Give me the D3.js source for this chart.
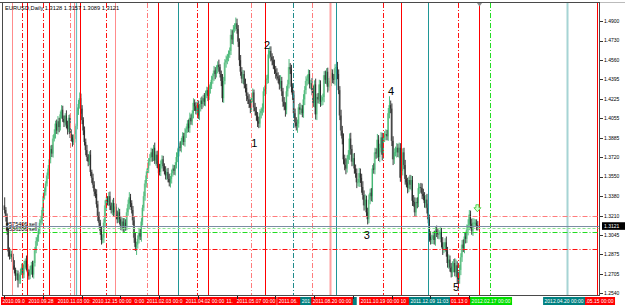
<!DOCTYPE html>
<html>
<head>
<meta charset="utf-8">
<script src="https://cdn.jsdelivr.net/npm/d3@7"></script>
<style>
  html, body { margin: 0; padding: 0; background: #fff; overflow: hidden; }
  svg { display: block; font-family: "Liberation Sans", Arial, sans-serif; }
</style>
</head>
<body>
<script>
/**
 * EURUSD Daily - MT4 style candle chart with objects
 */

/**
 * Data (prices in pips, 13121 = 1.3121)
 */
var title = 'EURUSD,Daily  1.3128 1.3157 1.3089 1.3121';
var firstOpen = 13300;
var closes = [
  13260,13200,13080,12900,12860,12880,12850,12780,12740,12690,
  12710,12650,12660,12720,12760,12700,12790,12820,12760,12720,
  12690,12740,12780,12700,12800,12910,12990,13020,13080,13150,
  13170,13260,13380,13420,13490,13560,13620,13700,13790,13750,
  13880,13920,14010,13950,14030,13980,14090,14130,14050,14020,
  14080,14000,13960,14060,13920,13890,13850,13880,13920,13990,
  14120,14180,14230,14140,14040,13950,13850,13780,13720,13680,
  13740,13590,13540,13480,13420,13400,13310,13210,13150,13080,
  13000,13020,13150,13300,13350,13330,13380,13300,13260,13320,
  13240,13290,13220,13180,13240,13180,13120,13160,13100,13150,
  13120,13240,13310,13370,13320,13260,13170,13020,12940,12960,
  13010,13060,13030,13160,13280,13380,13490,13560,13620,13680,
  13710,13760,13720,13800,13690,13740,13660,13620,13590,13660,
  13700,13640,13600,13560,13590,13530,13500,13530,13580,13620,
  13600,13650,13720,13760,13810,13800,13860,13900,13850,13930,
  13960,14010,13970,14060,14030,14100,14190,14160,14120,14170,
  14080,14150,14210,14180,14230,14200,14260,14300,14250,14310,
  14340,14390,14420,14470,14440,14480,14520,14500,14440,14380,
  14230,14380,14540,14560,14590,14610,14640,14780,14740,14830,
  14850,14880,14830,14720,14560,14460,14400,14440,14350,14320,
  14250,14220,14180,14150,14240,14280,14150,14120,14080,14030,
  14010,14100,14120,14140,14290,14310,14390,14400,14610,14640,
  14590,14560,14520,14480,14450,14420,14400,14350,14380,14290,
  14200,14160,14130,14290,14350,14500,14480,14330,14260,14100,
  14020,13990,14010,14150,14130,14140,14100,14220,14300,14380,
  14400,14440,14350,14360,14300,14190,14350,14090,14240,14220,
  14350,14200,14210,14240,14430,14390,14460,14330,14360,14380,
  14450,14400,14390,14490,14500,14440,14300,14080,13950,13880,
  13700,13650,13620,13700,13740,13880,13790,13680,13710,13620,
  13580,13500,13500,13580,13540,13460,13390,13300,13350,13240,
  13180,13350,13410,13380,13620,13610,13760,13750,13870,13720,
  13800,13890,13740,13890,13910,13920,13900,14100,14170,14140,
  13860,13700,13760,13760,13800,13760,13800,13540,13600,13760,
  13650,13530,13500,13450,13520,13480,13520,13340,13330,13240,
  13330,13320,13450,13460,13450,13400,13380,13320,13350,13280,
  13180,13030,13000,13010,13040,13000,13080,13060,13050,13050,
  13070,12980,12920,12940,12980,12900,12800,12830,12760,12720,
  12770,12800,12720,12780,12680,12660,12740,12850,12960,12930,
  13030,13010,13090,13130,13220,13140,13080,13150,13150,13150,
  13128,13121
];
// upper / lower shadow length above / below the body, in pips
var wickUp = [
  70,25,30,20,35,40,25,30,45,20,30,25,40,30,35,25,30,20,45,30,
  25,35,30,40,20,30,35,25,20,30,40,25,30,35,20,25,30,45,30,35,
  30,40,25,35,45,30,25,40,35,30,20,45,35,25,30,40,25,35,30,20,
  30,35,50,40,30,25,35,30,45,25,30,40,20,35,30,25,40,30,35,25,
  40,30,35,45,25,30,35,40,25,30,45,30,25,35,40,30,25,35,30,40,
  30,35,40,45,30,25,35,30,40,25,30,45,35,30,25,40,30,35,25,30,
  35,40,30,25,45,30,35,25,40,30,35,30,25,40,30,35,45,25,30,35,
  30,25,40,35,30,45,25,35,30,40,25,30,35,45,30,25,40,30,35,30,
  40,30,25,35,30,45,35,30,25,40,30,35,25,40,30,35,30,45,25,30,
  60,35,30,40,25,35,30,50,40,35,30,50,40,35,30,45,40,35,30,50,
  35,30,45,40,30,35,25,40,35,30,40,35,30,45,35,30,40,35,45,40,
  40,30,35,45,30,40,35,30,50,35,30,40,35,45,40,70,35,40,30,35,
  40,45,35,30,40,35,30,45,35,40,30,40,35,30,45,40,35,50,30,35,
  40,35,45,30,35,40,30,35,45,40,35,30,40,35,30,45,40,35,50,40,
  45,40,60,35,40,45,50,35,40,45,35,40,30,45,40,35,50,40,45,35,
  40,45,35,40,30,45,40,35,50,40,35,45,40,30,35,40,35,45,77,40,
  45,40,35,50,40,35,45,40,50,35,40,45,35,40,30,45,40,35,50,40,
  35,40,45,30,35,40,45,35,40,50,35,40,45,35,30,40,35,45,40,35,
  40,35,45,40,35,50,40,45,35,40,45,35,40,50,35,40,45,35,40,45,
  35,40,45,50,40,35,45,40,35,30,29,36
];
var wickDn = [
  30,40,35,45,30,25,40,35,30,45,35,62,30,40,25,35,30,45,25,40,
  35,30,40,25,35,30,25,40,35,30,25,35,40,30,35,25,30,40,35,30,
  35,25,40,30,35,45,30,35,25,40,35,30,45,25,35,30,40,25,35,45,
  30,35,40,45,35,40,30,45,35,40,30,35,45,30,40,35,30,45,40,35,
  40,30,45,35,40,30,35,40,30,45,35,30,40,35,30,45,35,40,30,35,
  40,35,30,45,35,30,40,45,35,70,35,40,30,45,35,30,40,35,30,40,
  35,30,40,35,30,45,35,40,30,35,40,45,30,35,40,30,35,45,40,30,
  35,40,30,45,35,30,40,35,30,40,45,30,35,40,30,35,45,40,30,35,
  30,40,35,45,30,35,40,30,45,35,40,30,35,40,45,30,35,40,30,45,
  35,40,30,45,35,40,30,35,40,45,30,35,40,45,50,35,40,45,35,40,
  45,40,35,50,40,45,35,40,45,50,40,35,45,40,35,40,45,35,40,35,
  40,45,35,40,50,35,40,45,35,40,45,35,60,40,45,35,40,50,45,40,
  45,40,60,35,40,45,35,40,50,35,40,45,35,40,45,35,40,45,50,35,
  40,45,35,40,45,35,40,50,35,40,45,40,35,50,40,45,35,40,45,50,
  40,45,50,35,40,45,50,40,35,45,40,50,35,40,45,50,40,45,35,40,
  45,35,40,45,50,35,40,45,40,35,45,40,50,35,40,45,35,40,45,40,
  45,50,40,35,45,40,50,35,45,40,35,50,40,45,35,40,50,45,40,35,
  40,45,35,50,40,45,35,40,45,50,35,45,40,35,45,40,50,35,40,45,
  40,45,50,35,40,45,40,50,35,45,40,50,35,45,56,50,40,45,40,35,
  45,40,35,50,45,40,35,45,40,35,45,39
];

// price scale labels
var priceTicks = [1.4900, 1.4730, 1.4560, 1.4395, 1.4225, 1.4055, 1.3885, 1.3720,
                  1.3550, 1.3380, 1.3210, 1.3045, 1.2875, 1.2705, 1.2540];
var bidPrice = 1.3121;

// vertical line objects (bar index, kind)
var vlineBars  = [6.4, 14.6, 18.8, 32.0, 36.9, 54.3, 57.6, 59.3, 62.6, 84.0, 91.5, 117.9, 127.0, 143.6, 159.3,
                  168.3, 203.9, 215.5, 238.6, 254.3, 269.2, 274.1, 313.0, 327.8, 350.2, 374.9, 392.3, 401.4, 465.0, 489.8];
var vlineKinds = ['pink', 'redDash', 'red', 'redDash', 'red', 'pinkDash', 'pink', 'tealSoft', 'red', 'redDash',
                  'pink', 'pinkDash', 'red', 'teal', 'redDash', 'red', 'pinkDash', 'red', 'tealDash', 'pinkDash',
                  'pinkWide', 'teal', 'redDash', 'red', 'teal', 'redDash', 'red', 'greenDash', 'tealLight', 'red'];

// horizontal levels
var levelPrices = [1.3205, 1.3121, 1.3108, 1.3067, 1.2919];
var levelKinds  = ['pinkDash', 'bid', 'orderDash', 'greenDash', 'redDash'];

// order labels
var orderTexts  = ['#575406 sell', '#536206 sell'];
var orderPrices = [1.3108, 1.3067];

// wave count labels
var waveTexts  = ['1', '2', '3', '4', '5'];
var waveBars   = [206.6, 217.1, 299.7, 319.6, 373.3];
var wavePrices = [1.3807, 1.4657, 1.3009, 1.4258, 1.2557];

// time axis object labels (bar index of the label centre, text, colour), in drawing order
var labelBars  = [14.6, 36.1, 60.1, 99.8, 89.0, 133.6, 194.8, 165.9, 208.0, 242.7, 261.7, 274.1, 270.8,
                  327.8, 310.5, 374.9, 351.4, 402.3, 487.4, 462.6];
var labelTexts = ['2010.09.01 00:00', '2010.09.28 00:00', '2010.11.03 00:00', '2011.01.05 00:00',
                  '2010.12.15 00:00', '2011.02.03 00:00', '2011.04.28 00:00', '2011.04.02 00:00',
                  '2011.05.07 00:00', '2011.06.29 00:00', '2011.07.19 00:00', '2011.08.25 00:00',
                  '2011.08.20 00:00', '2011.11.10 00:00', '2011.10.19 00:00', '2012.01.13 00:00',
                  '2011.12.09 11:03', '2012.02.17 00:00', '2012.05.15 00:00', '2012.04.20 00:00'];
var labelKinds = ['red', 'red', 'red', 'red', 'red', 'red', 'red', 'red', 'red', 'red', 'teal', 'teal', 'red',
                  'red', 'red', 'red', 'teal', 'green', 'red', 'teal'];
var timeTickBars = [0, 32, 64, 96, 128, 160, 192, 224, 256, 288, 320, 352, 384];

/**
 * Styles
 */
var dd = '5,2,1,2';
var lineStyle = {
  red:       { stroke: '#ff0000', dash: null, w: 1 },
  redDash:   { stroke: '#ff1010', dash: dd, w: 1 },
  pink:      { stroke: '#ff8c8c', dash: null, w: 1 },
  pinkWide:  { stroke: '#ffa0a0', dash: null, w: 2 },
  pinkDash:  { stroke: '#ff7c7c', dash: dd, w: 1 },
  teal:      { stroke: '#1f9696', dash: null, w: 1 },
  tealSoft:  { stroke: '#6cc4c4', dash: null, w: 1.2 },
  tealDash:  { stroke: '#1f8a8a', dash: dd, w: 1 },
  tealLight: { stroke: '#a6d4d4', dash: null, w: 2 },
  greenDash: { stroke: '#22dd22', dash: dd, w: 1 },
  orderDash: { stroke: '#8fe88f', dash: '3,2', w: 1 },
  bid:       { stroke: '#7c8ca4', dash: null, w: 1 }
};
var labelFill = { red: '#ff0000', teal: '#008080', green: '#00dd00' };

var plot = { left: 2.5, right: 599.5, top: 3, bottom: 295 };

/**
 * Scales
 */
var x = d3.scaleLinear()
  .domain([ 0, closes.length - 1 ])
  .range([ 4.3, 4.3 + (closes.length - 1) * 1.21 ]);
var y = d3.scaleLinear()
  .domain([ 1.2540, 1.4900 ])
  .range([ 293, 21 ]);

var candles = closes.map(function(c, i) {
  var o = i === 0 ? firstOpen : closes[i - 1];
  var hi = Math.max(o, c) + (wickUp[i] || 0);
  var lo = Math.min(o, c) - (wickDn[i] || 0);
  return { i: i, open: o / 1e4, close: c / 1e4, high: hi / 1e4, low: lo / 1e4, up: c >= o };
});

/**
 * SVG
 */
var svg = d3.select('body').append('svg')
  .attr('width', 625)
  .attr('height', 307);

svg.append('rect').attr('width', 625).attr('height', 307).attr('fill', '#fff');

svg.append('defs').append('clipPath').attr('id', 'plot')
  .append('rect')
    .attr('x', plot.left).attr('y', plot.top)
    .attr('width', plot.right - plot.left).attr('height', plot.bottom - plot.top);

var chart = svg.append('g').attr('clip-path', 'url(#plot)');

/**
 * Candles
 */
chart.selectAll('.body').data(candles)
  .enter().append('rect')
    .attr('class', 'body')
    .attr('x', function(d) { return x(d.i) - 0.85; })
    .attr('width', 1.7)
    .attr('y', function(d) { return y(Math.max(d.open, d.close)); })
    .attr('height', function(d) { return Math.max(0.8, Math.abs(y(d.open) - y(d.close))); })
    .attr('fill', function(d) { return d.up ? '#92d6a6' : '#7c7c7c'; });

chart.selectAll('.wick').data(candles)
  .enter().append('line')
    .attr('class', 'wick')
    .attr('x1', function(d) { return x(d.i) + 0.4; })
    .attr('x2', function(d) { return x(d.i) + 0.4; })
    .attr('y1', function(d) { return y(d.high); })
    .attr('y2', function(d) { return y(d.low); })
    .attr('stroke', function(d) { return d.up ? '#35b06a' : '#161616'; })
    .attr('stroke-width', 0.85);

/**
 * Vertical line objects
 */
chart.selectAll('.vline').data(vlineBars)
  .enter().append('line')
    .attr('class', 'vline')
    .attr('x1', function(d) { return Math.round(x(d)) + 0.5; })
    .attr('x2', function(d) { return Math.round(x(d)) + 0.5; })
    .attr('y1', plot.top)
    .attr('y2', plot.bottom)
    .style('stroke', function(d, i) { return lineStyle[vlineKinds[i]].stroke; })
    .style('stroke-width', function(d, i) { return lineStyle[vlineKinds[i]].w; })
    .style('stroke-dasharray', function(d, i) { return lineStyle[vlineKinds[i]].dash; });

/**
 * Horizontal levels
 */
chart.selectAll('.level').data(levelPrices)
  .enter().append('line')
    .attr('class', 'level')
    .attr('x1', plot.left)
    .attr('x2', plot.right)
    .attr('y1', function(d) { return Math.round(y(d)) + 0.5; })
    .attr('y2', function(d) { return Math.round(y(d)) + 0.5; })
    .style('stroke', function(d, i) { return lineStyle[levelKinds[i]].stroke; })
    .style('stroke-width', 1)
    .style('stroke-dasharray', function(d, i) { return lineStyle[levelKinds[i]].dash; });

// order labels
chart.selectAll('.order').data(orderTexts)
  .enter().append('text')
    .attr('class', 'order')
    .attr('x', 6)
    .attr('y', function(d, i) { return y(orderPrices[i]) - 1.5; })
    .style('font-size', '5.5px')
    .attr('fill', '#000')
    .text(String);

// wave numbers
chart.selectAll('.wave').data(waveTexts)
  .enter().append('text')
    .attr('class', 'wave')
    .attr('x', function(d, i) { return x(waveBars[i]); })
    .attr('y', function(d, i) { return y(wavePrices[i]); })
    .attr('text-anchor', 'middle')
    .style('font-size', '11px')
    .attr('fill', '#000')
    .text(String);

// green arrow near the last bar
var ax = x(closes.length - 1), ay = y(1.3245);
chart.append('path')
  .attr('d', 'M' + (ax - 1.5) + ',' + (ay - 7) + 'h3v3h2l-3.5,4l-3.5,-4h2z')
  .attr('fill', '#d8ffd0')
  .attr('stroke', '#33cc33')
  .attr('stroke-width', 0.8);

/**
 * Frame
 */
var frame = svg.append('g').attr('stroke', '#4a4a4a').attr('shape-rendering', 'crispEdges');
frame.append('line').attr('x1', 0).attr('x2', 600).attr('y1', 2.5).attr('y2', 2.5).attr('stroke-width', 1.4);
frame.append('line').attr('x1', 600).attr('x2', 625).attr('y1', 2.5).attr('y2', 2.5).attr('stroke', '#bbb');
frame.append('line').attr('x1', 2.5).attr('x2', 2.5).attr('y1', 2.5).attr('y2', 295.5);
frame.append('line').attr('x1', 599.5).attr('x2', 599.5).attr('y1', 2.5).attr('y2', 295.5);
frame.append('line').attr('x1', 2.5).attr('x2', 599.5).attr('y1', 295.5).attr('y2', 295.5);

// grey marker on top of the last bar line
var tx = Math.round(x(392.3)) + 0.5;
svg.append('path')
  .attr('d', 'M' + (tx - 2.5) + ',3h5l-2.5,3.5z')
  .attr('fill', '#8a8a8a');

// title
svg.append('text')
  .attr('x', 5)
  .attr('y', 10)
  .style('font-size', '5.7px')
  .attr('fill', '#000')
  .text(title);

/**
 * Price scale
 */
var pscale = svg.append('g');
pscale.selectAll('.ptick').data(priceTicks)
  .enter().append('line')
    .attr('x1', 600).attr('x2', 602.5)
    .attr('y1', function(d) { return Math.round(y(d)) + 0.5; })
    .attr('y2', function(d) { return Math.round(y(d)) + 0.5; })
    .attr('stroke', '#333')
    .attr('shape-rendering', 'crispEdges');
pscale.selectAll('.plabel').data(priceTicks)
  .enter().append('text')
    .attr('x', 604)
    .attr('y', function(d) { return y(d) + 1.8; })
    .style('font-size', '5px')
    .attr('fill', '#000')
    .text(function(d) { return d.toFixed(4); });

// bid label
pscale.append('rect')
  .attr('x', 602).attr('y', y(bidPrice) - 3.8)
  .attr('width', 23).attr('height', 7.6)
  .attr('fill', '#000');
pscale.append('text')
  .attr('x', 604)
  .attr('y', y(bidPrice) + 1.8)
  .style('font-size', '5px')
  .attr('fill', '#fff')
  .text(bidPrice.toFixed(4));

/**
 * Time axis object labels
 * each label box hides the ones drawn before it, so only the visible
 * characters of a label are kept
 */
var tlabels = svg.append('g');
var items = labelTexts.map(function(t, i) {
  var cx = x(labelBars[i]);
  var g = tlabels.append('g');
  var r = g.append('rect').attr('y', 297).attr('height', 8).attr('fill', labelFill[labelKinds[i]]);
  var txt = g.append('text')
    .attr('y', 303)
    .style('font-size', '5px')
    .attr('fill', '#fff')
    .text(t);
  var tw = txt.node().getComputedTextLength();
  var w = tw + 3;
  r.attr('x', cx - w / 2).attr('width', w);
  txt.attr('x', cx - tw / 2);
  return { txt: txt, l: cx - w / 2, r: cx + w / 2, text: t };
});

items.forEach(function(it, i) {
  // visible parts of this box after later boxes are drawn
  var parts = [[ it.l, Math.min(it.r, 625) ]];
  items.slice(i + 1).forEach(function(o) {
    var next = [];
    parts.forEach(function(p) {
      if (o.r <= p[0] || o.l >= p[1]) { next.push(p); return; }
      if (o.l > p[0]) next.push([ p[0], o.l ]);
      if (o.r < p[1]) next.push([ o.r, p[1] ]);
    });
    parts = next;
  });
  var best = parts.sort(function(a, b) { return (b[1] - b[0]) - (a[1] - a[0]); })[0];
  var node = it.txt.node();
  if (!best) { it.txt.remove(); return; }
  var first = -1, last = -1;
  for (var k = 0; k < it.text.length; k++) {
    var e = node.getExtentOfChar(k);
    if (e.x >= best[0] - 0.3 && e.x + e.width <= best[1] + 0.3) {
      if (first < 0) first = k;
      last = k;
    }
  }
  if (first < 0) { it.txt.remove(); return; }
  var sx = node.getExtentOfChar(first).x;
  it.txt.attr('x', sx).text(it.text.slice(first, last + 1).replace(/^ +| +$/g, ''));
  if (it.text.charAt(first) === ' ') it.txt.attr('x', sx + node.getExtentOfChar(first).width);
});

svg.selectAll('.ttick').data(timeTickBars)
  .enter().append('line')
    .attr('x1', function(d) { return Math.round(x(d)) + 0.5; })
    .attr('x2', function(d) { return Math.round(x(d)) + 0.5; })
    .attr('y1', 295.5).attr('y2', 298.5)
    .attr('stroke', '#222')
    .attr('shape-rendering', 'crispEdges');
</script>
</body>
</html>
